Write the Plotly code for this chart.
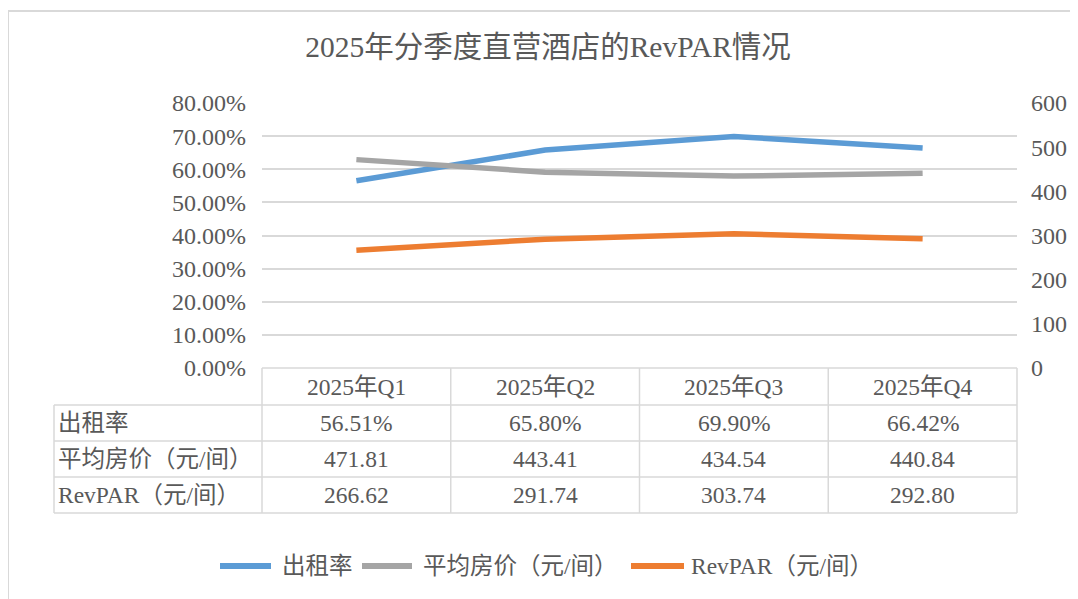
import plotly.graph_objects as go

categories = ["2025年Q1", "2025年Q2", "2025年Q3", "2025年Q4"]
occupancy = [0.5651, 0.6580, 0.6990, 0.6642]
avg_price = [471.81, 443.41, 434.54, 440.84]
revpar = [266.62, 291.74, 303.74, 292.80]
series_names = ["出租率", "平均房价（元/间）", "RevPAR（元/间）"]
occupancy_labels = ["56.51%", "65.80%", "69.90%", "66.42%"]
price_labels = ["471.81", "443.41", "434.54", "440.84"]
revpar_labels = ["266.62", "291.74", "303.74", "292.80"]
colors = ["#5B9BD5", "#A5A5A5", "#ED7D31"]
title_text = "2025年分季度直营酒店的RevPAR情况"

W, H = 1078, 599
OX, OY = 8, 8  # page body margin
L, R, T, B = 262, 1017, 103, 368  # plot area in page pixels
FONT = "Liberation Serif, 'Times New Roman', 'Noto Sans CJK SC', serif"
TXT = "#595959"
GRID = "#D9D9D9"

def px(x):
    return (x - L) / (R - L)

def py(y):
    return (B - y) / (B - T)

fig = go.Figure()
fig.add_trace(go.Scatter(x=categories, y=occupancy, name=series_names[0], mode="lines",
                         line=dict(color=colors[0], width=5.5), yaxis="y"))
fig.add_trace(go.Scatter(x=categories, y=avg_price, name=series_names[1], mode="lines",
                         line=dict(color=colors[1], width=5.5), yaxis="y2"))
fig.add_trace(go.Scatter(x=categories, y=revpar, name=series_names[2], mode="lines",
                         line=dict(color=colors[2], width=5.5), yaxis="y2"))

shapes = []
annotations = []
# chart frame
shapes.append(dict(type="line", xref="paper", yref="paper", x0=px(8), x1=px(1078), y0=py(11), y1=py(11),
                   line=dict(color="#D9D9D9", width=2)))
shapes.append(dict(type="line", xref="paper", yref="paper", x0=px(8), x1=px(8), y0=py(11), y1=py(599),
                   line=dict(color="#D9D9D9", width=2)))

col_edges = [L + (R - L) * i / 4 for i in range(5)]
row_edges = [368, 405, 441, 477, 513]
left_edge = 54
line_style = dict(color=GRID, width=1.5)
shapes.append(dict(type="line", xref="paper", yref="paper", x0=px(L), x1=px(R), y0=py(row_edges[0]), y1=py(row_edges[0]), line=line_style))
for ry in row_edges[1:]:
    shapes.append(dict(type="line", xref="paper", yref="paper", x0=px(left_edge), x1=px(R), y0=py(ry), y1=py(ry), line=line_style))
for cx in col_edges:
    shapes.append(dict(type="line", xref="paper", yref="paper", x0=px(cx), x1=px(cx), y0=py(row_edges[0]), y1=py(row_edges[-1]), line=line_style))
shapes.append(dict(type="line", xref="paper", yref="paper", x0=px(left_edge), x1=px(left_edge), y0=py(row_edges[1]), y1=py(row_edges[-1]), line=line_style))

tf = dict(family=FONT, size=23.5, color=TXT)
rows = [categories, occupancy_labels, price_labels, revpar_labels]
for r, vals in enumerate(rows):
    yc = (row_edges[r] + row_edges[r + 1]) / 2
    for c, v in enumerate(vals):
        xc = (col_edges[c] + col_edges[c + 1]) / 2
        annotations.append(dict(x=px(xc), y=py(yc), xref="paper", yref="paper", text=v, showarrow=False,
                                xanchor="center", yanchor="middle", font=tf))
    if r > 0:
        annotations.append(dict(x=px(left_edge + 2), y=py(yc), xref="paper", yref="paper", text=series_names[r - 1],
                                showarrow=False, xanchor="left", yanchor="middle", font=tf))

# legend (drawn to match the reference spacing)
leg_y = 566
leg_lines = [(217, 274), (359, 415), (628, 687)]
leg_text_x = [280, 421, 689]
for i, name in enumerate(series_names):
    x0, x1 = leg_lines[i]
    shapes.append(dict(type="line", xref="paper", yref="paper", x0=px(x0 + 3), x1=px(x1 - 3),
                       y0=py(leg_y), y1=py(leg_y), line=dict(color=colors[i], width=6)))
    annotations.append(dict(x=px(leg_text_x[i]), y=py(leg_y), xref="paper", yref="paper", text=name,
                            showarrow=False, xanchor="left", yanchor="middle",
                            font=dict(family=FONT, size=23.5, color=TXT)))

fig.update_layout(
    width=W, height=H, autosize=False,
    margin=dict(l=L - OX, r=W - (R - OX), t=T - OY, b=H - (B - OY), autoexpand=False),
    paper_bgcolor="white", plot_bgcolor="white",
    title=dict(text=title_text, x=(548 - OX) / W, xref="container", xanchor="center",
               y=1 - (47 - OY) / H, yref="container", yanchor="middle",
               font=dict(family=FONT, size=29.5, color=TXT)),
    xaxis=dict(type="category", range=[-0.5, 3.5], showticklabels=False, showgrid=False,
               zeroline=False, showline=False, ticks="", automargin=False),
    yaxis=dict(range=[0, 0.8], dtick=0.1, tickformat=".2%", showgrid=True, gridcolor=GRID, gridwidth=1.5,
               zeroline=False, showline=False, ticks="", ticklabelstandoff=15, automargin=False,
               tickfont=dict(family=FONT, size=24, color=TXT)),
    yaxis2=dict(range=[0, 600], dtick=100, overlaying="y", side="right", showgrid=False,
                zeroline=False, showline=False, ticks="", ticklabelstandoff=13, automargin=False,
                tickfont=dict(family=FONT, size=24, color=TXT)),
    shapes=shapes, annotations=annotations,
    showlegend=False,
)

fig.write_html("out.html", config={"responsive": False})
